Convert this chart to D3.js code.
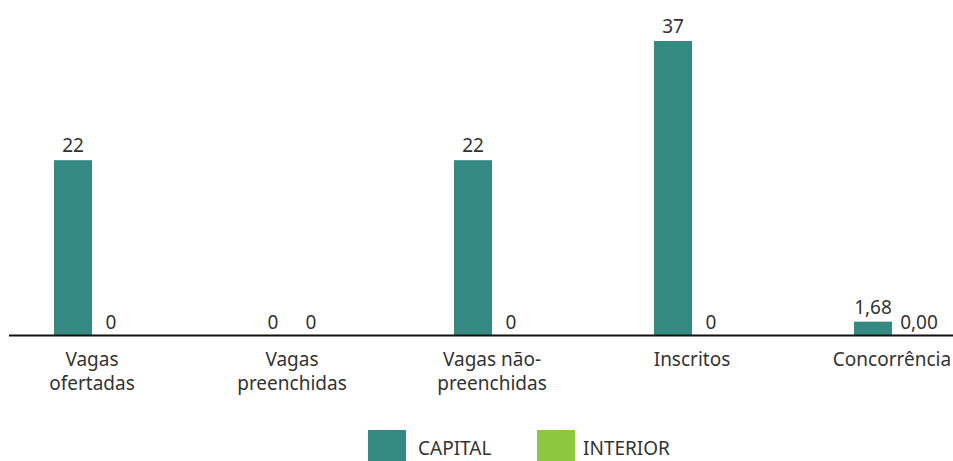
<!DOCTYPE html>
<html>
<head>
<meta charset="utf-8">
<script src="https://cdn.jsdelivr.net/npm/d3@7"></script>
<style>
  html, body { margin: 0; padding: 0; background: #fff; }
  svg { display: block; font-family: "Noto Sans", sans-serif; }
</style>
</head>
<body>
<svg id="chart" width="953" height="461"></svg>
<script>
const categories = ["Vagas\nofertadas", "Vagas\npreenchidas", "Vagas não-\npreenchidas", "Inscritos", "Concorrência"];
const seriesNames = ["CAPITAL", "INTERIOR"];
const capital = [22, 0, 22, 37, 1.68];
const interior = [0, 0, 0, 0, 0];
const labelDecimals = [0, 0, 0, 0, 2];
const colors = ["#348a80", "#8dc63f"];

const svg = d3.select("#chart");
const baseY = 335;
const fs = 19;

const x0 = d3.scaleBand().domain(categories).range([-8, 992]).padding(0);
const groupW = 76;
const x1 = d3.scaleBand().domain(seriesNames).range([0, groupW]).padding(0);
const y = d3.scaleLinear().domain([0, 37]).range([baseY, 41]);
const color = d3.scaleOrdinal().domain(seriesNames).range(colors);

const rows = categories.map((c, i) => ({
  cat: c, dec: labelDecimals[i],
  vals: [{ s: "CAPITAL", v: capital[i] }, { s: "INTERIOR", v: interior[i] }]
}));

const fmt = (v, dec) => v.toFixed(dec).replace(".", ",");

const groups = svg.selectAll("g.grp").data(rows).join("g")
  .attr("class", "grp")
  .attr("transform", d => `translate(${x0(d.cat) + x0.bandwidth() / 2 - groupW / 2},0)`);

groups.selectAll("rect").data(d => d.vals).join("rect")
  .attr("x", d => x1(d.s))
  .attr("y", d => y(d.v))
  .attr("width", x1.bandwidth())
  .attr("height", d => baseY - y(d.v))
  .attr("fill", d => color(d.s));

groups.selectAll("text.val").data(d => d.vals.map(v => ({ ...v, dec: d.dec }))).join("text")
  .attr("class", "val")
  .attr("x", d => x1(d.s) + x1.bandwidth() / 2 + (d.dec > 0 && d.s === "INTERIOR" ? 8 : 0))
  .attr("y", d => y(d.v) - (d.v === 0 ? 6 : 8))
  .attr("text-anchor", "middle")
  .attr("font-size", fs)
  .attr("fill", "#333")
  .text(d => fmt(d.v, d.dec));

// axis baseline
svg.append("line")
  .attr("x1", 9).attr("x2", 953)
  .attr("y1", baseY + 0.5).attr("y2", baseY + 0.5)
  .attr("stroke", "#111").attr("stroke-width", 2);

// category labels
const catLabels = svg.selectAll("text.cat").data(categories).join("text")
  .attr("class", "cat")
  .attr("x", d => x0(d) + x0.bandwidth() / 2)
  .attr("y", 366)
  .attr("text-anchor", "middle")
  .attr("font-size", fs)
  .attr("fill", "#333");
catLabels.each(function (d) {
  const t = d3.select(this);
  const cx = x0(d) + x0.bandwidth() / 2;
  d.split("\n").forEach((line, i) => {
    t.append("tspan").attr("x", cx).attr("dy", i === 0 ? 0 : 24).text(line);
  });
});

// legend
const legendX = [368, 537];
const leg = svg.selectAll("g.leg").data(seriesNames).join("g")
  .attr("class", "leg")
  .attr("transform", (d, i) => `translate(${legendX[i]},430)`);
leg.append("rect").attr("width", 38).attr("height", 31).attr("fill", d => color(d));
leg.append("text").attr("x", d => d === "CAPITAL" ? 50 : 46).attr("y", 25)
  .attr("font-size", fs).attr("fill", "#333").text(d => d);
</script>
</body>
</html>
